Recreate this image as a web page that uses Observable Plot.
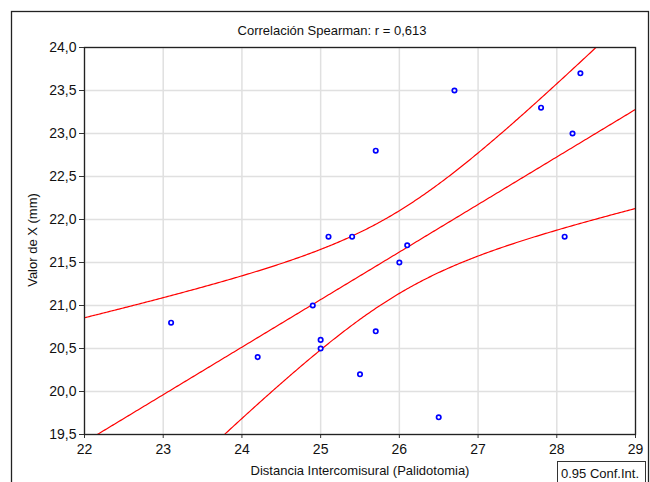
<!DOCTYPE html>
<html>
<head>
<meta charset="utf-8">
<script src="https://cdn.jsdelivr.net/npm/d3@7"></script>
<script src="https://cdn.jsdelivr.net/npm/@observablehq/plot@0.6"></script>
<style>
  html, body { margin: 0; padding: 0; background: #fff; }
  #chart { width: 650px; height: 482px; overflow: hidden; }
  svg { font-family: "Liberation Sans", Arial, sans-serif; }
</style>
</head>
<body>
<div id="chart"></div>
<script>
// Data
const distancia = [23.1, 24.2, 24.9, 25.0, 25.0, 25.1, 25.4, 25.5, 25.7, 25.7, 26.0, 26.1, 26.5, 26.7, 27.8, 28.1, 28.2, 28.3];
const valorX    = [20.8, 20.4, 21.0, 20.6, 20.5, 21.8, 21.8, 20.2, 22.8, 20.7, 21.5, 21.7, 19.7, 23.5, 23.3, 21.8, 23.0, 23.7];
const xTicks = [22, 23, 24, 25, 26, 27, 28, 29];
const yTicks = [19.5, 20.0, 20.5, 21.0, 21.5, 22.0, 22.5, 23.0, 23.5, 24.0];
const titleText = "Correlación Spearman: r = 0,613";
const xLabel = "Distancia Intercomisural (Palidotomia)";
const yLabel = "Valor de X (mm)";
const legendText = "0.95 Conf.Int.";
const tCrit = 2.1199; // t(0.975, df = 16) for the 0.95 confidence band

const points = distancia.map((d, i) => ({x: d, y: valorX[i]}));

// Ordinary least-squares regression with 95% confidence band of the mean
const n = points.length;
const mx = d3.mean(distancia), my = d3.mean(valorX);
const sxx = d3.sum(distancia, d => (d - mx) ** 2);
const sxy = d3.sum(points, p => (p.x - mx) * (p.y - my));
const slope = sxy / sxx, intercept = my - slope * mx;
const sse = d3.sum(points, p => (p.y - (intercept + slope * p.x)) ** 2);
const s = Math.sqrt(sse / (n - 2));
const xs = d3.range(xTicks[0], xTicks[xTicks.length - 1] + 1e-9, 0.02);
const fit = xs.map(x => {
  const yhat = intercept + slope * x;
  const h = tCrit * s * Math.sqrt(1 / n + (x - mx) ** 2 / sxx);
  return {x, yhat, lo: yhat - h, hi: yhat + h};
});

const fmtY = d => d.toFixed(1).replace(".", ",");

const plot = Plot.plot({
  width: 650,
  height: 482,
  marginLeft: 84,
  marginRight: 15,
  marginTop: 47,
  marginBottom: 48,
  style: {fontFamily: '"Liberation Sans", Arial, sans-serif', fontSize: "14px", background: "#fff"},
  x: {domain: [22, 29], label: null},
  y: {domain: [19.5, 24], label: null},
  marks: [
    Plot.gridX(xTicks, {stroke: "#e0e0e0", strokeOpacity: 1, strokeWidth: 1.5}),
    Plot.gridY(yTicks, {stroke: "#e0e0e0", strokeOpacity: 1, strokeWidth: 1.5}),
    Plot.axisX(xTicks, {tickSize: 4, tickPadding: 6, fontSize: 14, stroke: "#333", fill: "#111", label: null}),
    Plot.axisY(yTicks, {tickSize: 5, tickPadding: 3, fontSize: 14, stroke: "#333", fill: "#111", tickFormat: fmtY, label: null}),
    Plot.line(fit, {x: "x", y: "hi", stroke: "#ff0000", strokeWidth: 1.2, clip: true}),
    Plot.line(fit, {x: "x", y: "yhat", stroke: "#ff0000", strokeWidth: 1.2, clip: true}),
    Plot.line(fit, {x: "x", y: "lo", stroke: "#ff0000", strokeWidth: 1.2, clip: true}),
    Plot.dot(points, {x: "x", y: "y", r: 2.2, stroke: "#0000ff", strokeWidth: 1.7, fill: "white"}),
    Plot.frame({stroke: "#222", strokeWidth: 1.3})
  ]
});

const svg = d3.select(plot);
// outer border
svg.insert("rect", ":first-child")
  .attr("x", 11.5).attr("y", 11.5).attr("width", 637).attr("height", 480)
  .attr("fill", "none").attr("stroke", "#222").attr("stroke-width", 1.3);
svg.append("text").attr("x", 332).attr("y", 35).attr("text-anchor", "middle")
  .attr("font-size", 13).attr("fill", "#111").text(titleText);
svg.append("text").attr("x", 360).attr("y", 475).attr("text-anchor", "middle")
  .attr("font-size", 13).attr("fill", "#111").text(xLabel);
svg.append("text").attr("transform", "translate(37,240) rotate(-90)").attr("text-anchor", "middle")
  .attr("font-size", 13).attr("fill", "#111").text(yLabel);
// legend box (partly cut off at the bottom, as in the reference)
svg.append("rect").attr("x", 557.5).attr("y", 461.5).attr("width", 88).attr("height", 30)
  .attr("fill", "#fff").attr("stroke", "#333").attr("stroke-width", 1);
svg.append("text").attr("x", 561).attr("y", 478).attr("text-anchor", "start")
  .attr("font-size", 13).attr("fill", "#111").text(legendText);

document.getElementById("chart").appendChild(plot);
</script>
</body>
</html>
